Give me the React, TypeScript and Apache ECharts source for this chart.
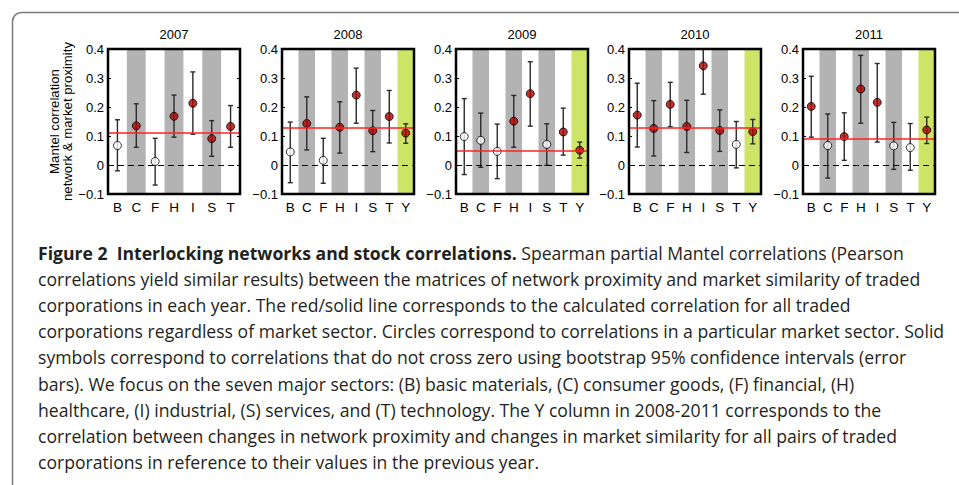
import React, { useEffect, useRef } from "react";
import * as echarts from "echarts";

const YEARS = ["2007", "2008", "2009", "2010", "2011"];
const CATS_2007 = ["B", "C", "F", "H", "I", "S", "T"];
const CATS_LATER = ["B", "C", "F", "H", "I", "S", "T", "Y"];
const CATEGORIES = [CATS_2007, CATS_LATER, CATS_LATER, CATS_LATER, CATS_LATER];

// point estimates
const EST_2007 = [0.067, 0.135, 0.012, 0.168, 0.213, 0.091, 0.133];
const EST_2008 = [0.045, 0.143, 0.016, 0.13, 0.241, 0.118, 0.167, 0.11];
const EST_2009 = [0.098, 0.085, 0.047, 0.151, 0.246, 0.071, 0.114, 0.051];
const EST_2010 = [0.172, 0.126, 0.209, 0.133, 0.342, 0.119, 0.071, 0.115];
const EST_2011 = [0.202, 0.067, 0.098, 0.262, 0.216, 0.066, 0.06, 0.121];
// lower bounds of 95% bootstrap CI
const LO_2007 = [-0.02, 0.061, -0.069, 0.096, 0.106, 0.03, 0.061];
const LO_2008 = [-0.061, 0.052, -0.063, 0.041, 0.144, 0.046, 0.076, 0.075];
const LO_2009 = [-0.033, -0.008, -0.047, 0.061, 0.134, -0.001, 0.034, 0.024];
const LO_2010 = [0.062, 0.031, 0.132, 0.043, 0.244, 0.047, -0.01, 0.073];
const LO_2011 = [0.096, -0.045, 0.016, 0.144, 0.079, -0.015, -0.018, 0.074];
// upper bounds
const HI_2007 = [0.156, 0.211, 0.092, 0.241, 0.321, 0.153, 0.205];
const HI_2008 = [0.148, 0.235, 0.092, 0.218, 0.334, 0.188, 0.257, 0.142];
const HI_2009 = [0.229, 0.179, 0.141, 0.24, 0.356, 0.142, 0.196, 0.079];
const HI_2010 = [0.282, 0.222, 0.285, 0.223, 0.44, 0.19, 0.15, 0.157];
const HI_2011 = [0.306, 0.176, 0.18, 0.378, 0.35, 0.147, 0.143, 0.165];
// overall correlation (red line)
const OVERALL = [0.11, 0.13, 0.05, 0.13, 0.09];
const Y_MIN = -0.1;
const Y_MAX = 0.4;
const Y_STEP = 0.1;

const ESTS = [EST_2007, EST_2008, EST_2009, EST_2010, EST_2011];
const LOS = [LO_2007, LO_2008, LO_2009, LO_2010, LO_2011];
const HIS = [HI_2007, HI_2008, HI_2009, HI_2010, HI_2011];

const CAPTION_BOLD = "Figure 2  Interlocking networks and stock correlations.";
const CAPTION_LINES = [
  " Spearman partial Mantel correlations (Pearson",
  "correlations yield similar results) between the matrices of network proximity and market similarity of traded",
  "corporations in each year. The red/solid line corresponds to the calculated correlation for all traded",
  "corporations regardless of market sector. Circles correspond to correlations in a particular market sector. Solid",
  "symbols correspond to correlations that do not cross zero using bootstrap 95% confidence intervals (error",
  "bars). We focus on the seven major sectors: (B) basic materials, (C) consumer goods, (F) financial, (H)",
  "healthcare, (I) industrial, (S) services, and (T) technology. The Y column in 2008-2011 corresponds to the",
  "correlation between changes in network proximity and changes in market similarity for all pairs of traded",
  "corporations in reference to their values in the previous year.",
];

const PANEL_LEFT = [108, 282, 456, 629, 803];
const PANEL_W = 132;
const PANEL_TOP = 49;
const PANEL_H = 145;

const AX_FONT = "'Liberation Sans', Arial, sans-serif";
const CAP_FAMILY = "'Open Sans', 'Noto Sans', sans-serif";
const CAP_SIZE = 17.6;
const GRAY = "#b3b3b3";
const GREEN = "#cde466";
const DARK_RED = "#b00000";

export default function App() {
  const ref = useRef<HTMLDivElement>(null);

  useEffect(() => {
    if (!ref.current) return;
    const chart = echarts.init(ref.current, undefined, { renderer: "svg" });

    const grid: any[] = [];
    const xAxis: any[] = [];
    const yAxis: any[] = [];
    const series: any[] = [];

    YEARS.forEach((year, k) => {
      const cats = CATEGORIES[k];
      grid.push({
        left: PANEL_LEFT[k],
        top: PANEL_TOP,
        width: PANEL_W,
        height: PANEL_H,
        show: true,
        borderColor: "#000",
        borderWidth: 2.5,
        backgroundColor: "transparent",
        z: 10,
      });
      xAxis.push({
        type: "category",
        gridIndex: k,
        data: cats,
        boundaryGap: true,
        axisLine: { show: false },
        axisTick: { show: false },
        axisLabel: { color: "#000", fontSize: 13.5, fontFamily: AX_FONT, margin: 6 },
        splitLine: { show: false },
      });
      yAxis.push({
        type: "value",
        gridIndex: k,
        min: Y_MIN,
        max: Y_MAX,
        interval: Y_STEP,
        position: "left",
        axisLine: { show: false },
        axisTick: { show: true, inside: true, length: 3, lineStyle: { color: "#000", width: 1 } },
        axisLabel: {
          color: "#000",
          fontSize: 13,
          fontFamily: AX_FONT,
          margin: 4,
          formatter: (v: number) => {
            const r = Math.round(v * 10) / 10;
            if (r === 0) return "0";
            return r.toFixed(1).replace("-", "\u2212");
          },
        },
        splitLine: { show: false },
        ...(k === 0
          ? {
              name: "Mantel correlation\nnetwork & market proximity",
              nameLocation: "middle",
              nameGap: 33,
              nameRotate: 90,
              nameTextStyle: { color: "#000", fontSize: 13.2, fontFamily: AX_FONT, lineHeight: 13 },
            }
          : {}),
      });
      yAxis.push({
        type: "value",
        gridIndex: k,
        min: Y_MIN,
        max: Y_MAX,
        interval: Y_STEP,
        position: "right",
        axisLine: { show: false },
        axisTick: { show: true, inside: true, length: 3, lineStyle: { color: "#000", width: 1 } },
        axisLabel: { show: false },
        splitLine: { show: false },
      });

      const yIdx = k * 2;
      // background stripes + reference lines
      series.push({
        type: "custom",
        xAxisIndex: k,
        yAxisIndex: yIdx,
        z: 1,
        silent: true,
        data: cats.map((c, i) => [i, 0, c === "Y" ? 2 : i % 2]),
        renderItem: (params: any, api: any) => {
          const i = api.value(0);
          const kind = api.value(2);
          const c = api.coord([i, 0]);
          const w = api.size([1, 0])[0];
          const cs = params.coordSys;
          if (kind === 0) return null;
          return {
            type: "rect",
            shape: { x: c[0] - w / 2, y: cs.y, width: w, height: cs.height },
            style: { fill: kind === 2 ? GREEN : GRAY },
          };
        },
        markLine: {
          silent: true,
          symbol: "none",
          label: { show: false },
          animation: false,
          data: [
            { yAxis: 0, lineStyle: { color: "#000", type: [6, 4], width: 1.2 } },
            { yAxis: OVERALL[k], lineStyle: { color: "#ff2222", type: "solid", width: 1.5 } },
          ],
        },
      });
      // error bars
      series.push({
        type: "custom",
        xAxisIndex: k,
        yAxisIndex: yIdx,
        z: 3,
        silent: true,
        data: cats.map((_, i) => [i, LOS[k][i], HIS[k][i]]),
        renderItem: (params: any, api: any) => {
          const i = api.value(0);
          const lo = api.value(1);
          const hi = api.value(2);
          const clipped = hi > Y_MAX;
          const pLo = api.coord([i, lo]);
          const pHi = api.coord([i, Math.min(hi, Y_MAX)]);
          const cap = 2.5;
          const st = { stroke: "#2a2a2a", lineWidth: 1.4 };
          const children: any[] = [
            { type: "line", shape: { x1: pLo[0], y1: pLo[1], x2: pHi[0], y2: pHi[1] }, style: st },
            { type: "line", shape: { x1: pLo[0] - cap, y1: pLo[1], x2: pLo[0] + cap, y2: pLo[1] }, style: st },
          ];
          if (!clipped)
            children.push({ type: "line", shape: { x1: pHi[0] - cap, y1: pHi[1], x2: pHi[0] + cap, y2: pHi[1] }, style: st });
          return { type: "group", children };
        },
      });
      // point estimates
      series.push({
        type: "scatter",
        xAxisIndex: k,
        yAxisIndex: yIdx,
        z: 4,
        silent: true,
        symbol: "circle",
        symbolSize: 8,
        data: cats.map((_, i) => ({
          value: [i, ESTS[k][i]],
          itemStyle: { color: LOS[k][i] > 0 ? DARK_RED : "#fff", borderColor: "#000", borderWidth: 1 },
        })),
      });
    });

    const graphic: any[] = [
      {
        type: "rect",
        shape: { x: 12.5, y: 12.5, width: 1000, height: 600, r: 9 },
        style: { fill: "none", stroke: "#7a7a7a", lineWidth: 1.5 },
        silent: true,
      },
    ];
    YEARS.forEach((year, k) => {
      graphic.push({
        type: "text",
        x: PANEL_LEFT[k] + PANEL_W / 2,
        y: 34,
        style: {
          text: year,
          fill: "#000",
          font: `13px ${AX_FONT}`,
          textAlign: "center",
          textVerticalAlign: "middle",
          align: "center",
          verticalAlign: "middle",
        },
      });
    });
    CAPTION_LINES.forEach((line, j) => {
      graphic.push({
        type: "text",
        x: 38,
        y: 253 + j * 26.1,
        style: {
          text: j === 0 ? `{b|${CAPTION_BOLD}}${line}` : line,
          fill: "#231f20",
          font: `${CAP_SIZE}px ${CAP_FAMILY}`,
          fontFamily: CAP_FAMILY,
          fontSize: CAP_SIZE,
          textVerticalAlign: "middle",
          verticalAlign: "middle",
          rich: { b: { fontWeight: "bold", fontSize: CAP_SIZE, fontFamily: CAP_FAMILY, fill: "#231f20" } },
        },
      });
    });

    chart.setOption({
      animation: false,
      backgroundColor: "#fff",
      grid,
      xAxis,
      yAxis,
      series,
      graphic,
    });
    return () => chart.dispose();
  }, []);

  return (
    <div
      ref={ref}
      style={{ position: "fixed", left: 0, top: 0, width: 959, height: 485, background: "#fff" }}
    />
  );
}
